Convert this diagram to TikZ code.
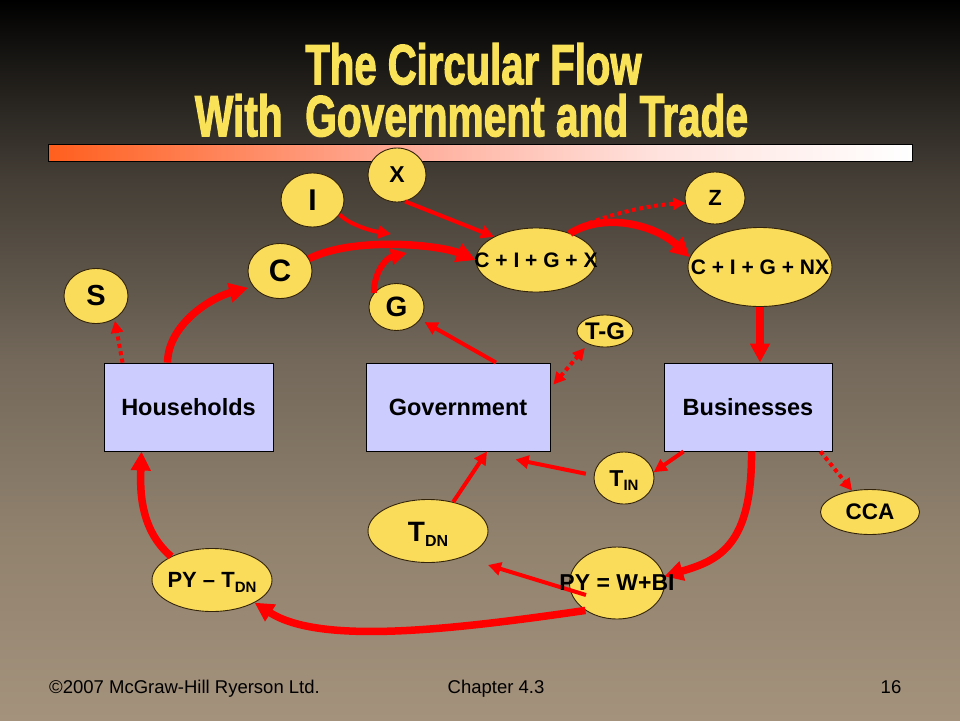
\documentclass[tikz,border=0pt]{standalone}
\usepackage{fontspec}
\setmainfont{Liberation Sans}
\newfontfamily\ttlfont[BoldFeatures={FakeBold=2.5}]{Liberation Sans}
\usetikzlibrary{arrows.meta,shapes.geometric,calc}
\definecolor{ylw}{RGB}{250,220,90}
\definecolor{ttl}{RGB}{250,226,88}
\definecolor{lav}{RGB}{204,204,255}
\definecolor{edgec}{RGB}{50,35,10}
\definecolor{flow}{RGB}{255,0,0}
\definecolor{bgA}{RGB}{164,146,124}
\definecolor{bgB}{RGB}{145,130,110}
\definecolor{bgC}{RGB}{115,104,90}
\definecolor{bgD}{RGB}{68,62,54}
\definecolor{bgE}{RGB}{25,23,20}
\definecolor{barA}{RGB}{255,95,30}
\definecolor{barB}{RGB}{255,170,150}
\definecolor{barC}{RGB}{255,225,220}
\pgfdeclareverticalshading{bgshade}{100bp}{color(0bp)=(bgA); color(25bp)=(bgA); color(37.5bp)=(bgB); color(50bp)=(bgC); color(62.5bp)=(bgD); color(70.8bp)=(bgE); color(75bp)=(black); color(100bp)=(black)}
\pgfdeclarehorizontalshading{barshade}{100bp}{color(0bp)=(barA); color(25bp)=(barA); color(45bp)=(barB); color(60bp)=(barC); color(75bp)=(white); color(100bp)=(white)}
\newcommand\fsz[1]{\fontsize{#1}{#1}\selectfont}
\begin{document}
\begin{tikzpicture}[x=1pt,y=-1pt,
  oval/.style={ellipse,draw=edgec,line width=0.9pt,fill=ylw,inner sep=0pt},
  box/.style={rectangle,draw=black,line width=0.9pt,fill=lav,inner sep=0pt,minimum height=88pt},
  lbl/.style={inner sep=0pt,text=black},
  fthin/.style={draw=flow,line width=4pt,-{Triangle[length=13pt,width=13pt]}},
  fmid/.style={draw=flow,line width=6pt,-{Triangle[length=16pt,width=16pt]}},
  fthick/.style={draw=flow,line width=7.5pt,-{Triangle[length=19pt,width=19pt]}},
  fdots/.style={draw=flow,line width=4pt,dash pattern=on 4pt off 3.5pt,-{Triangle[length=12pt,width=12pt]}},
  foot/.style={inner sep=0pt,text=black,font=\fsz{18.5}},
]
\useasboundingbox (0,0) rectangle (960,720);
\path[shading=bgshade] (0,0) rectangle (960,720);
% title
\node[anchor=north,inner sep=0pt,text=ttl] (title1) at (473.5,43) {\resizebox{336pt}{41pt}{\ttlfont\bfseries The Circular Flow}};
\node[anchor=north,inner sep=0pt,text=ttl] (title2) at (471.5,94) {\resizebox{553pt}{42pt}{\ttlfont\bfseries With~~Government and Trade}};
\shadedraw[shading=barshade,draw=black,line width=0.8pt] (48,144) rectangle (912,161);
% ellipses
\node[oval,minimum width=58pt,minimum height=54pt] (X) at (397,175) {};
\node[oval,minimum width=63pt,minimum height=54pt] (I) at (312.5,200) {};
\node[oval,minimum width=64pt,minimum height=55pt] (C) at (280,271) {};
\node[oval,minimum width=64pt,minimum height=55pt] (S) at (96,296) {};
\node[oval,minimum width=55pt,minimum height=47pt] (G) at (396.5,307) {};
\node[oval,minimum width=120pt,minimum height=64pt] (cigx) at (536,260) {};
\node[oval,minimum width=60pt,minimum height=52pt] (Z) at (715,198) {};
\node[oval,minimum width=144pt,minimum height=79pt] (cignx) at (760,267) {};
\node[oval,minimum width=56pt,minimum height=32pt] (TG) at (605,331) {};
\node[oval,minimum width=120pt,minimum height=63pt] (TDN) at (428,531) {};
\node[oval,minimum width=120pt,minimum height=63pt] (PYT) at (212,580) {};
\node[oval,minimum width=60pt,minimum height=52pt] (TIN) at (624,478) {};
\node[oval,minimum width=99pt,minimum height=45pt] (CCA) at (870,512) {};
\node[oval,minimum width=95pt,minimum height=72pt] (PYW) at (617,583) {};
% boxes
\node[box,minimum width=169pt] (hh) at (188.5,407) {};
\node[box,minimum width=184pt] (gov) at (458,407) {};
\node[box,minimum width=168pt] (bus) at (748,407) {};
% connectors
\draw[fthick,shorten >=5pt] ([xshift=64pt]hh.north west) .. controls (168,325) and (210,298) .. (C.210);
\draw[fdots,shorten >=2pt] ([xshift=19pt]hh.north west) -- (S.309);
\draw[fthick] (C.23) .. controls (355,236) and (440,245) .. (cigx.west);
\coordinate (iend) at (391,234);
\draw[fthin] (I.-28) .. controls (346,222) and (366,230) .. (iend);
\coordinate (gend) at (407,253);
\draw[fmid] (G.148) .. controls (374,272) and (386,258) .. (gend);
\draw[fthin] (X.-73) -- (cigx.151);
\draw[fdots] (cigx.40) .. controls (600,215) and (650,205) .. (Z.190);
\draw[fthick] (cigx.38) .. controls (605,212) and (655,225) .. (cignx.172);
\draw[fthick] (cignx.south) -- (cignx.south |- bus.north);
\draw[fthin,shorten >=5pt] ([xshift=38pt]gov.north) -- (G.-28);
\draw[fdots,{Triangle[length=12pt,width=12pt]}-{Triangle[length=12pt,width=12pt]},shorten >=5pt] ([xshift=3pt,yshift=-22pt]gov.north east) -- (TG.218);
\draw[fthin] ([xshift=20pt]bus.south west) -- (TIN.11);
\draw[fthin,shorten <=8pt] (TIN.175) -- ([xshift=150pt,yshift=-8pt]gov.south west);
\draw[fdots] ([xshift=-12pt]bus.south east) -- (CCA.130);
\draw[fthick] ([xshift=88pt]bus.south west) .. controls (752,545) and (720,560) .. (PYW.8);
\draw[fthin] ([xshift=-31pt,yshift=-12pt]PYW.center) -- ([xshift=60pt,yshift=-34pt]TDN.center);
\draw[fthin] (TDN.49) -- ([xshift=29pt]gov.south);
\draw[fthick] (PYW.221) .. controls (450,630) and (320,645) .. (PYT.-28);
\draw[fthick] (PYT.150) .. controls (140,530) and (140,490) .. ([xshift=38pt]hh.south west);
% labels
\node[lbl,font=\bfseries\fsz{23}] (X-t) at (X) {X};
\node[lbl,font=\bfseries\fsz{30}] (I-t) at (I) {I};
\node[lbl,font=\bfseries\fsz{31}] (C-t) at (C) {C};
\node[lbl,font=\bfseries\fsz{29}] (S-t) at (S) {S};
\node[lbl,font=\bfseries\fsz{28}] (G-t) at (G) {G};
\node[lbl,font=\bfseries\fsz{21}] (cigx-t) at (cigx) {C + I + G + X};
\node[lbl,font=\bfseries\fsz{22}] (Z-t) at (Z) {Z};
\node[lbl,font=\bfseries\fsz{21}] (cignx-t) at (cignx) {C + I + G + NX};
\node[lbl,font=\bfseries\fsz{24}] (TG-t) at (TG) {T-G};
\node[lbl,font=\bfseries\fsz{23.5}] (hh-t) at (hh) {Households};
\node[lbl,font=\bfseries\fsz{23.5}] (gov-t) at (gov) {Government};
\node[lbl,font=\bfseries\fsz{23.5}] (bus-t) at (bus) {Businesses};
\node[lbl,font=\bfseries\fsz{28},anchor=base] (TDN-t) at ([yshift=-10.7pt]TDN.center) {T\raisebox{-5pt}{\fsz{16}DN}};
\node[lbl,font=\bfseries\fsz{22},anchor=base] (PYT-t) at ([yshift=-7.7pt]PYT.center) {PY – T\raisebox{-5pt}{\fsz{15}DN}};
\node[lbl,font=\bfseries\fsz{23},anchor=base] (TIN-t) at ([yshift=-8.7pt]TIN.center) {T\raisebox{-4pt}{\fsz{15}IN}};
\node[lbl,font=\bfseries\fsz{22.5}] (CCA-t) at (CCA) {CCA};
\node[lbl,font=\bfseries\fsz{23}] (PYW-t) at (PYW) {PY = W+BI};
% footer
\node[foot,anchor=base west] (copy) at (49,693) {©2007 McGraw-Hill Ryerson Ltd.};
\node[foot,anchor=base] (chap) at (496,693) {Chapter 4.3};
\node[foot,anchor=base] (page) at (891,693) {16};
\end{tikzpicture}
\end{document}
